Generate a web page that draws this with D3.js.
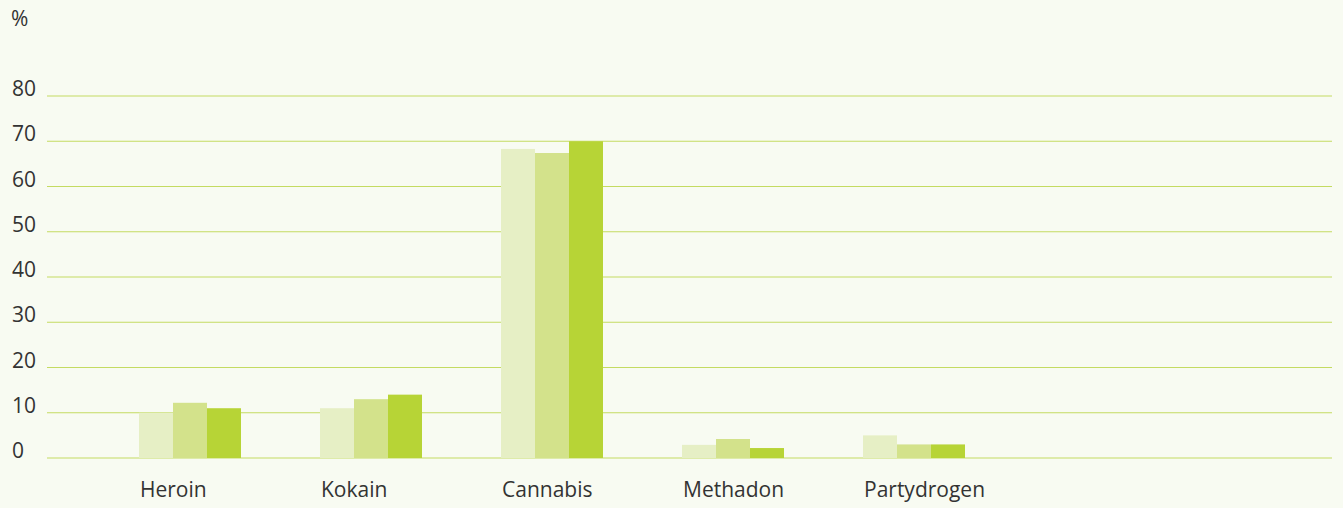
<!DOCTYPE html>
<html>
<head>
<meta charset="utf-8">
<script src="https://cdn.jsdelivr.net/npm/d3@7"></script>
<style>
  html, body { margin: 0; padding: 0; background: #f8fbf2; }
  svg { display: block; }
  text { font-family: 'Open Sans', sans-serif; fill: #333; }
</style>
</head>
<body>
<div id="chart"></div>
<script>
const categories = ['Heroin', 'Kokain', 'Cannabis', 'Methadon', 'Partydrogen'];
const seriesNames = ['a', 'b', 'c'];
const seriesA = [10, 11, 68.3, 2.9, 5];
const seriesB = [12.2, 13, 67.4, 4.2, 3];
const seriesC = [11, 14, 70, 2.2, 3];
const yTicks = [0, 10, 20, 30, 40, 50, 60, 70, 80];
const colors = ['#e6efc5', '#d3e28b', '#b7d436'];

const W = 1343;
const H = 508;
const margin = { t: 96, r: 11, b: 50, l: 47 };

const svg = d3.select('#chart').append('svg')
  .attr('width', W)
  .attr('height', H);

const y = d3.scaleLinear()
  .domain([0, 80])
  .range([H - margin.b, margin.t]);

// groups sit in the left part of the plot, gridlines run on to the right
const x0 = d3.scaleBand()
  .domain(categories)
  .range([99.5, 1004.5])
  .paddingInner(0.4365)
  .paddingOuter(0.2182);

const x1 = d3.scaleBand()
  .domain(seriesNames)
  .range([0, x0.bandwidth()]);

// gridlines
svg.append('g')
  .selectAll('line')
  .data(yTicks)
  .enter().append('line')
  .attr('x1', margin.l)
  .attr('x2', W - margin.r)
  .attr('y1', d => y(d))
  .attr('y2', d => y(d))
  .style('stroke', '#c4db62')
  .style('stroke-width', 1.2);

// y labels
svg.append('g')
  .selectAll('text')
  .data(yTicks)
  .enter().append('text')
  .attr('x', 12)
  .attr('y', d => y(d))
  .style('font-size', '21px')
  .text(d => d);

svg.append('text')
  .attr('x', 11)
  .attr('y', 26)
  .style('font-size', '21px')
  .text('%');

const rows = categories.map((c, i) => ({
  cat: c,
  vals: [seriesA[i], seriesB[i], seriesC[i]]
}));

const groups = svg.append('g')
  .selectAll('g')
  .data(rows)
  .enter().append('g')
  .attr('transform', d => `translate(${x0(d.cat)}, 0)`);

groups.selectAll('rect')
  .data(d => d.vals.map((v, i) => ({ key: seriesNames[i], value: v, i })))
  .enter().append('rect')
  .attr('x', d => x1(d.key))
  .attr('width', x1.bandwidth())
  .attr('y', d => y(d.value))
  .attr('height', d => y(0) - y(d.value))
  .attr('fill', d => colors[d.i]);

// category labels, left aligned to group
svg.append('g')
  .selectAll('text')
  .data(categories)
  .enter().append('text')
  .attr('x', d => x0(d) + 1)
  .attr('y', 497)
  .style('font-size', '21px')
  .text(d => d);
</script>
</body>
</html>
